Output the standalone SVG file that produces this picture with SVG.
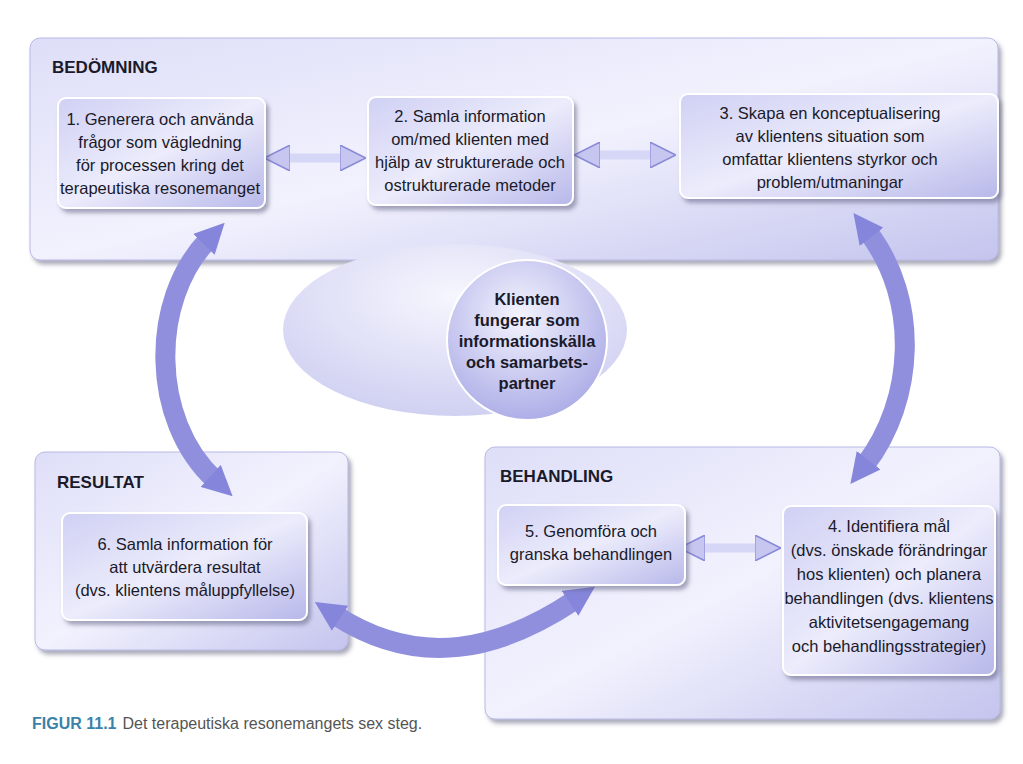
<svg xmlns="http://www.w3.org/2000/svg" width="1023" height="764" viewBox="0 0 1023 764">
<defs>
<linearGradient id="panel" x1="0" y1="0" x2="1" y2="1"><stop offset="0" stop-color="#dedef8"/><stop offset="0.5" stop-color="#f2f2fe"/><stop offset="1" stop-color="#c4c4ee"/></linearGradient>
<linearGradient id="box" x1="0" y1="0" x2="1" y2="1"><stop offset="0" stop-color="#d0d0f4"/><stop offset="0.5" stop-color="#ececfc"/><stop offset="1" stop-color="#b8b8ea"/></linearGradient>
<radialGradient id="ell" cx="0.5" cy="0.3" r="0.7"><stop offset="0" stop-color="#f6f6fe"/><stop offset="1" stop-color="#d0d0f2"/></radialGradient>
<radialGradient id="circ" cx="0.45" cy="0.35" r="0.7"><stop offset="0" stop-color="#f4f4fe"/><stop offset="1" stop-color="#a9a9e6"/></radialGradient>
<marker id="ah" viewBox="0 0 10 10" refX="2" refY="5" markerWidth="30" markerHeight="30" markerUnits="userSpaceOnUse" orient="auto-start-reverse"><path d="M0,0 L10,5 L0,10 Z" fill="#8585db"/></marker>
<marker id="ahs" viewBox="0 0 10 10" refX="2" refY="5" markerWidth="26" markerHeight="26" markerUnits="userSpaceOnUse" orient="auto-start-reverse"><path d="M0,0 L10,5 L0,10 Z" fill="#c6c6f0" stroke="#8888d8" stroke-width="0.6"/></marker>
<filter id="sh" x="-5%" y="-5%" width="115%" height="120%"><feDropShadow dx="3" dy="4" stdDeviation="2" flood-color="#555577" flood-opacity="0.5"/></filter>
</defs>
<style>
.panel{fill:url(#panel);stroke:#b8b8e6;stroke-width:1;filter:url(#sh)}
.box{fill:url(#box);stroke:#ffffff;stroke-width:2;filter:url(#sh)}
text{font-family:"Liberation Sans",Arial,sans-serif;fill:#1a1a2a}
.t{font-size:16.5px;text-anchor:middle}
.h{font-size:17px;font-weight:bold}
.c{font-size:16.5px;font-weight:bold;text-anchor:middle}
.big{fill:none;stroke:#8f8fde;stroke-width:20}
.small{fill:none;stroke:#d6d6f6;stroke-width:9}
</style>
<rect width="1023" height="764" fill="#ffffff"/>
<g id="panel-bedomning"><rect class="panel" x="30" y="38" width="968" height="222" rx="10"/><text class="h" x="52" y="73">BEDÖMNING</text></g>
<g id="panel-resultat"><rect class="panel" x="35" y="452" width="313" height="198" rx="10"/><text class="h" x="57" y="488">RESULTAT</text></g>
<g id="panel-behandling"><rect class="panel" x="485" y="447" width="515" height="272" rx="10"/><text class="h" x="500" y="482">BEHANDLING</text></g>
<g id="center"><ellipse cx="455" cy="330" rx="172" ry="86" fill="url(#ell)"/><circle cx="527" cy="340" r="80" fill="url(#circ)" stroke="#ffffff" stroke-width="2"/>
<text class="c"><tspan x="527" y="305">Klienten</tspan><tspan x="527" y="326">fungerar som</tspan><tspan x="527" y="347">informationskälla</tspan><tspan x="527" y="368">och samarbets-</tspan><tspan x="527" y="389">partner</tspan></text></g>
<g id="connectors">
<path class="big" d="M208,240 C150,300 150,420 215,480" marker-start="url(#ah)" marker-end="url(#ah)"/>
<path class="big" d="M868,232 C920,300 915,400 865,465" marker-start="url(#ah)" marker-end="url(#ah)"/>
<path class="big" d="M335,615 C420,670 500,650 575,600" marker-start="url(#ah)" marker-end="url(#ah)"/>
<path class="small" d="M285,158 L345,158" marker-start="url(#ahs)" marker-end="url(#ahs)"/>
<path class="small" d="M595,155 L655,155" marker-start="url(#ahs)" marker-end="url(#ahs)"/>
<path class="small" d="M700,548 L760,548" marker-start="url(#ahs)" marker-end="url(#ahs)"/>
</g>
<g id="n1"><rect class="box" x="58" y="98" width="207" height="110" rx="8"/><text class="t"><tspan x="160" y="125">1. Generera och använda</tspan><tspan x="160" y="148">frågor som vägledning</tspan><tspan x="160" y="171">för processen kring det</tspan><tspan x="160" y="194">terapeutiska resonemanget</tspan></text></g>
<g id="n2"><rect class="box" x="368" y="97" width="205" height="108" rx="8"/><text class="t"><tspan x="470" y="122">2. Samla information</tspan><tspan x="470" y="145">om/med klienten med</tspan><tspan x="470" y="168">hjälp av strukturerade och</tspan><tspan x="470" y="191">ostrukturerade metoder</tspan></text></g>
<g id="n3"><rect class="box" x="680" y="94" width="318" height="104" rx="8"/><text class="t"><tspan x="830" y="119">3. Skapa en konceptualisering</tspan><tspan x="830" y="142">av klientens situation som</tspan><tspan x="830" y="165">omfattar klientens styrkor och</tspan><tspan x="830" y="188">problem/utmaningar</tspan></text></g>
<g id="n4"><rect class="box" x="783" y="506" width="212" height="169" rx="8"/><text class="t"><tspan x="889" y="532">4. Identifiera mål</tspan><tspan x="889" y="556">(dvs. önskade förändringar</tspan><tspan x="889" y="580">hos klienten) och planera</tspan><tspan x="889" y="604">behandlingen (dvs. klientens</tspan><tspan x="889" y="628">aktivitetsengagemang</tspan><tspan x="889" y="652">och behandlingsstrategier)</tspan></text></g>
<g id="n5"><rect class="box" x="498" y="505" width="187" height="80" rx="8"/><text class="t"><tspan x="591" y="537">5. Genomföra och</tspan><tspan x="591" y="560">granska behandlingen</tspan></text></g>
<g id="n6"><rect class="box" x="62" y="513" width="245" height="107" rx="8"/><text class="t"><tspan x="185" y="550">6. Samla information för</tspan><tspan x="185" y="573">att utvärdera resultat</tspan><tspan x="185" y="596">(dvs. klientens måluppfyllelse)</tspan></text></g>
<g id="caption"><text x="32" y="729" font-size="16"><tspan font-weight="bold" fill="#3a82a8">FIGUR 11.1</tspan><tspan fill="#555555" dx="6">Det terapeutiska resonemangets sex steg.</tspan></text></g>
</svg>
